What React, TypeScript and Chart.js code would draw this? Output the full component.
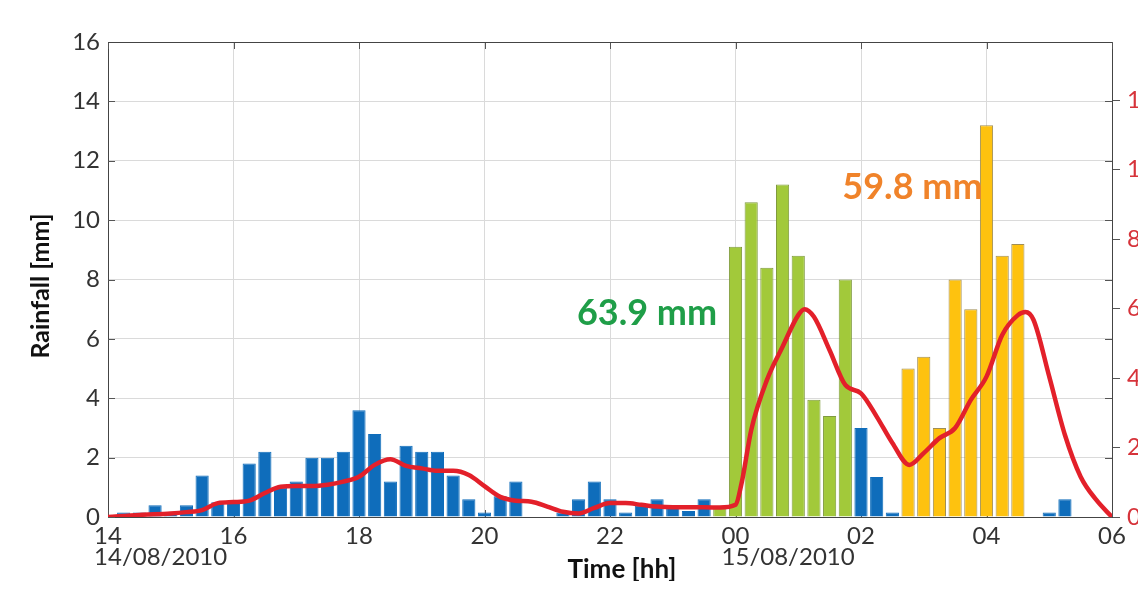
import React, { useEffect, useRef } from "react";
import { Chart, registerables } from "chart.js";

Chart.register(...registerables);

const FONT = "Lato, 'Open Sans', sans-serif";

// 15-minute rainfall bins (bar centred at the end of each bin), 14:15 on 14/08 → 06:00 on 15/08
const rainfall = [
  0.15, 0.15, 0.4, 0.15, 0.4, 1.4, 0.5, 0.5,
  1.8, 2.2, 1.0, 1.2, 2.0, 2.0, 2.2, 3.6,
  2.8, 1.2, 2.4, 2.2, 2.2, 1.4, 0.6, 0.15,
  0.7, 1.2, 0, 0, 0.15, 0.6, 1.2, 0.6,
  0.15, 0.4, 0.6, 0.35, 0.2, 0.6, 0.3, 9.1,
  10.6, 8.4, 11.2, 8.8, 3.95, 3.4, 8.0, 3.0,
  1.35, 0.15, 5.0, 5.4, 3.0, 8.0, 7.0, 13.2,
  8.8, 9.2, 0, 0.15, 0.6, 0, 0, 0,
];

// B = background rain, G = first event (63.9 mm), Y = second event (59.8 mm)
const barGroup = [
  "B", "B", "B", "B", "B", "B", "B", "B",
  "B", "B", "B", "B", "B", "B", "B", "B",
  "B", "B", "B", "B", "B", "B", "B", "B",
  "B", "B", "B", "B", "B", "B", "B", "B",
  "B", "B", "B", "B", "B", "B", "G", "G",
  "G", "G", "G", "G", "G", "G", "G", "B",
  "B", "B", "Y", "Y", "Y", "Y", "Y", "Y",
  "Y", "Y", "B", "B", "B", "B", "B", "B",
];

// red curve (right axis), time in hours since 00:00 of 14/08
const lineTimes = [
  14.0, 14.5, 15.0, 15.25, 15.5, 15.75, 16.0, 16.25, 16.5, 16.75,
  17.0, 17.25, 17.5, 17.75, 18.0, 18.25, 18.5, 18.75, 19.0, 19.25,
  19.5, 19.75, 20.0, 20.25, 20.5, 20.75, 21.0, 21.25, 21.5, 21.75,
  22.0, 22.25, 22.5, 22.75, 23.0, 23.5, 23.75, 24.0, 24.1, 24.25,
  24.5, 24.75, 25.0, 25.1, 25.25, 25.5, 25.75, 26.0, 26.25, 26.5,
  26.77, 27.0, 27.25, 27.5, 27.75, 28.0, 28.25, 28.5, 28.62, 28.75,
  29.0, 29.25, 29.5, 29.75, 30.0,
];
const lineValues = [
  0, 0.06, 0.1, 0.14, 0.2, 0.4, 0.43, 0.47, 0.69, 0.87,
  0.89, 0.89, 0.93, 1.02, 1.16, 1.5, 1.66, 1.47, 1.4, 1.33,
  1.33, 1.21, 0.89, 0.58, 0.47, 0.44, 0.3, 0.15, 0.1, 0.26,
  0.4, 0.4, 0.35, 0.3, 0.28, 0.28, 0.27, 0.35, 1.0, 2.5,
  3.94, 4.9, 5.81, 5.98, 5.76, 4.8, 3.8, 3.56, 2.89, 2.13,
  1.5, 1.84, 2.27, 2.56, 3.37, 4.04, 5.24, 5.81, 5.9, 5.67,
  4.04, 2.36, 1.16, 0.49, 0,
];

const xTicks = [14, 16, 18, 20, 22, 24, 26, 28, 30];
const yTicks = [0, 2, 4, 6, 8, 10, 12, 14, 16];
const dateLabels = [
  { at: 14, text: "14/08/2010" },
  { at: 24, text: "15/08/2010" },
];
const annotations = [
  { text: "63.9 mm", x: 22.59, y: 6.87, color: "#1f9e48" },
  { text: "59.8 mm", x: 26.82, y: 11.1, color: "#f0832a" },
];

const barStart = 14.25;
const barStep = 0.25;

const fill: Record<string, string> = { B: "#0f6dbb", G: "#a2c93a", Y: "#fec20f" };
const edge: Record<string, string> = { B: "#0f6dbb", G: "#7f9a3e", Y: "#a08e55" };

const hourLabel = (v: number) => String(((v % 24) + 24) % 24).padStart(2, "0");

const decor = {
  id: "decor",
  beforeDatasetsDraw(chart: any) {
    const { ctx, chartArea: a, scales } = chart;
    ctx.save();
    ctx.strokeStyle = "#555";
    ctx.lineWidth = 1;
    const seg = (x1: number, y1: number, x2: number, y2: number) => {
      ctx.beginPath();
      ctx.moveTo(x1, y1);
      ctx.lineTo(x2, y2);
      ctx.stroke();
    };
    yTicks.forEach((v) => {
      const y = Math.round(scales.y.getPixelForValue(v)) + 0.5;
      seg(a.left, y, a.left + 7, y);
      seg(a.right - 7, y, a.right, y);
    });
    xTicks.forEach((v) => {
      const x = Math.round(scales.x.getPixelForValue(v)) + 0.5;
      seg(x, a.bottom, x, a.bottom - 7);
      seg(x, a.top, x, a.top + 7);
    });
    ctx.strokeStyle = "#444";
    seg(a.left, Math.round(a.top) + 0.5, a.right, Math.round(a.top) + 0.5);
    ctx.restore();
  },
  afterDraw(chart: any) {
    const { ctx, chartArea: a, scales } = chart;
    ctx.save();
    ctx.font = `24px ${FONT}`;
    ctx.fillStyle = "#333";
    ctx.textBaseline = "middle";
    ctx.textAlign = "left";
    dateLabels.forEach((d) => {
      const w = ctx.measureText(hourLabel(d.at)).width;
      const x = scales.x.getPixelForValue(d.at) - w / 2;
      ctx.fillText(d.text, x, a.bottom + 40);
    });
    ctx.font = `bold 26px ${FONT}`;
    ctx.fillStyle = "#111";
    ctx.textAlign = "center";
    ctx.textBaseline = "alphabetic";
    ctx.fillText("Time [hh]", 614, a.bottom + 61);
    ctx.save();
    ctx.translate(33, 278);
    ctx.rotate(-Math.PI / 2);
    ctx.font = `bold 25px ${FONT}`;
    ctx.textBaseline = "middle";
    ctx.fillText("Rainfall [mm]", 0, 0);
    ctx.restore();
    ctx.font = `bold 36px ${FONT}`;
    ctx.textBaseline = "middle";
    annotations.forEach((n) => {
      ctx.fillStyle = n.color;
      ctx.fillText(n.text, scales.x.getPixelForValue(n.x), scales.y.getPixelForValue(n.y));
    });
    ctx.restore();
  },
};

export default function App() {
  const ref = useRef<HTMLCanvasElement | null>(null);

  useEffect(() => {
    if (!ref.current) return;
    const bars = rainfall.map((v, i) => ({ x: barStart + barStep * i, y: v }));
    const line = lineTimes.map((t, i) => ({ x: t, y: lineValues[i] }));
    const chart = new Chart(ref.current, {
      type: "bar",
      data: {
        datasets: [
          {
            type: "line",
            data: line,
            yAxisID: "y1",
            borderColor: "#e3202a",
            borderWidth: 4.5,
            pointRadius: 0,
            cubicInterpolationMode: "monotone",
            order: 0,
          } as any,
          {
            type: "bar",
            data: bars,
            yAxisID: "y",
            backgroundColor: barGroup.map((g) => fill[g]),
            borderColor: barGroup.map((g) => edge[g]),
            borderWidth: 1,
            barPercentage: 0.84,
            categoryPercentage: 1,
            order: 1,
          } as any,
        ],
      },
      options: {
        animation: false,
        responsive: false,
        layout: { padding: { top: 34, left: 0, right: 0, bottom: 0 } },
        plugins: { legend: { display: false }, tooltip: { enabled: false } },
        scales: {
          x: {
            type: "linear",
            min: 14,
            max: 30,
            offset: false,
            afterBuildTicks: (s: any) => {
              s.ticks = xTicks.map((v) => ({ value: v }));
            },
            afterFit: (s: any) => {
              s.height = 64;
            },
            ticks: {
              autoSkip: false,
              maxRotation: 0,
              padding: 5,
              color: "#333",
              font: { family: FONT, size: 24 },
              callback: (v: any) => hourLabel(Number(v)),
            },
            grid: { color: "#dadada", drawTicks: false, offset: false },
            border: { color: "#444" },
          },
          y: {
            position: "left",
            min: 0,
            max: 16,
            afterFit: (s: any) => {
              s.width = 100;
            },
            ticks: {
              stepSize: 2,
              padding: 8,
              color: "#333",
              font: { family: FONT, size: 24 },
            },
            grid: { color: "#dadada", drawTicks: false },
            border: { color: "#444" },
          },
          y1: {
            position: "right",
            min: 0,
            max: 13.67,
            afterFit: (s: any) => {
              s.width = 34;
            },
            ticks: {
              stepSize: 2,
              includeBounds: false,
              padding: 7,
              color: "#d6333a",
              font: { family: FONT, size: 24 },
            },
            grid: { drawOnChartArea: false, tickLength: 8, tickColor: "#555" },
            border: { color: "#444" },
          },
        },
      } as any,
      plugins: [decor],
    });
    return () => chart.destroy();
  }, []);

  return (
    <div style={{ width: 1138, height: 573, background: "#fff" }}>
      <canvas ref={ref} width={1138} height={573} style={{ display: "block" }} />
    </div>
  );
}
